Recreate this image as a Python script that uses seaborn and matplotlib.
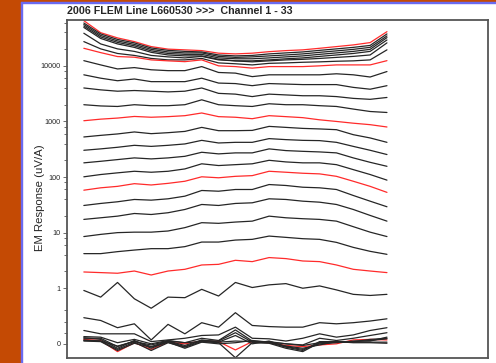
import numpy as np
import pandas as pd
import seaborn as sns
import matplotlib.pyplot as plt
from matplotlib.patches import Rectangle
from matplotlib.ticker import FixedLocator, FixedFormatter, NullFormatter

# station index along the line (19 readings per channel)
stations = list(range(19))

# EM response (uV/A) per channel
ch01 = [65000, 39500, 31800, 27300, 22200, 20000, 19400, 18800, 16900, 16400, 16900, 18000, 18800, 19400, 20700, 22200, 23800, 26200, 41200]
ch02 = [59000, 37500, 29900, 25900, 21000, 19000, 18200, 17800, 15700, 15100, 15400, 16400, 17100, 17800, 19000, 20200, 21500, 23300, 37500]
ch03 = [55500, 35200, 28100, 24300, 19800, 17800, 17100, 17100, 14800, 14200, 14500, 15100, 15700, 16400, 17500, 18600, 19800, 21500, 34500]
ch04 = [52100, 33100, 26400, 22900, 18600, 16700, 16100, 16100, 13900, 13400, 13400, 13900, 14500, 15100, 16100, 17100, 18200, 19800, 32200]
ch05 = [49100, 31100, 24800, 21500, 17500, 15700, 15100, 15100, 13100, 12300, 12300, 12800, 13400, 13900, 14800, 15700, 16700, 18200, 29200]
ch06 = [38600, 24800, 20200, 18200, 15400, 14500, 13900, 14800, 12800, 12300, 11800, 12300, 12800, 13100, 13600, 14200, 14800, 15700, 25900]
ch07 = [27300, 20200, 16700, 15400, 13600, 12800, 12800, 13600, 11300, 10900, 10400, 11100, 11300, 11600, 11800, 12100, 12300, 12800, 19400]
ch08 = [20700, 17300, 14700, 14300, 12800, 12300, 11900, 12800, 10000, 9700, 9100, 9700, 9700, 9700, 10000, 10400, 10400, 10400, 12400]
ch09 = [12400, 10400, 8800, 9300, 8500, 8200, 8200, 9700, 7600, 7400, 6400, 6900, 6900, 6900, 6900, 7200, 6900, 6300, 7900]
ch10 = [6900, 6000, 5400, 5800, 5200, 5200, 5200, 6000, 4900, 4800, 4400, 4800, 4700, 4600, 4600, 4600, 4100, 3800, 4400]
ch11 = [4000, 3700, 3500, 3600, 3500, 3400, 3500, 4000, 3200, 3100, 2800, 3100, 3000, 2900, 2900, 2800, 2600, 2500, 2700]
ch12 = [2000, 1900, 1860, 2000, 1920, 1920, 2000, 2450, 2000, 1920, 1860, 2080, 2000, 2000, 1920, 1860, 1670, 1510, 1450]
ch13 = [1030, 1100, 1150, 1230, 1190, 1220, 1270, 1420, 1220, 1190, 1120, 1270, 1220, 1170, 1070, 1000, 930, 875, 795]
ch14 = [526, 562, 596, 647, 603, 628, 662, 782, 682, 682, 690, 815, 782, 750, 733, 711, 578, 505, 421]
ch15 = [303, 321, 343, 372, 356, 372, 394, 457, 410, 421, 421, 491, 471, 457, 452, 421, 356, 303, 254]
ch16 = [180, 192, 206, 221, 212, 221, 236, 279, 261, 272, 272, 321, 299, 290, 283, 272, 221, 184, 156]
ch17 = [101, 111, 119, 127, 122, 127, 140, 173, 161, 167, 173, 200, 187, 180, 180, 167, 136, 111, 88]
ch18 = [58, 64, 68, 76, 72, 77, 84, 101, 97, 103, 106, 127, 122, 117, 114, 103, 84, 68, 53]
ch19 = [30.8, 33.5, 35.9, 39.5, 38.4, 40.6, 45.3, 57.3, 55.6, 59.7, 59.7, 73.3, 70.5, 65.6, 64.0, 59.7, 46.6, 36.8, 29.2]
ch20 = [17.3, 18.5, 19.8, 22.1, 21.2, 22.8, 26.1, 32.1, 30.8, 33.5, 34.4, 40.6, 39.5, 36.8, 35.3, 32.1, 26.1, 20.4, 16.1]
ch21 = [8.5, 9.3, 10.0, 10.2, 10.2, 10.7, 12.3, 15.1, 14.7, 15.5, 16.1, 19.8, 18.5, 17.8, 17.3, 16.1, 12.8, 10.2, 8.5]
ch22 = [4.19, 4.19, 4.55, 4.86, 5.15, 5.15, 5.60, 6.77, 6.77, 7.35, 7.57, 8.67, 8.22, 7.78, 7.57, 6.68, 5.43, 4.61, 4.07]
ch23 = [1.96, 1.91, 1.86, 2.04, 1.73, 2.04, 2.19, 2.62, 2.69, 3.18, 3.01, 3.56, 3.41, 3.09, 3.01, 2.62, 2.19, 2.04, 1.91]
ch24 = [0.96, 0.84, 1.27, 0.81, 0.64, 0.84, 0.83, 0.98, 0.86, 1.27, 1.03, 1.15, 1.21, 1.0, 1.10, 0.97, 0.89, 0.87, 0.89]
ch25 = [0.47, 0.42, 0.29, 0.36, 0.07, 0.35, 0.18, 0.38, 0.30, 0.56, 0.33, 0.31, 0.30, 0.30, 0.38, 0.36, 0.38, 0.41, 0.45]
ch26 = [0.24, 0.18, 0.18, 0.18, 0.04, 0.07, 0.10, 0.15, 0.16, 0.30, 0.10, 0.09, 0.05, 0.10, 0.18, 0.12, 0.16, 0.24, 0.29]
ch27 = [0.13, 0.12, 0.02, 0.08, 0.0, 0.06, 0.02, 0.10, 0.06, 0.25, 0.05, 0.03, 0.0, -0.02, 0.10, 0.06, 0.10, 0.15, 0.20]
ch28 = [0.08, 0.06, -0.14, 0.02, -0.10, 0.03, 0.0, 0.05, 0.04, -0.11, 0.04, 0.02, -0.03, -0.05, -0.02, 0.0, 0.07, 0.08, 0.07]
ch29 = [0.10, 0.10, -0.05, 0.05, -0.05, 0.05, -0.03, 0.07, 0.03, 0.15, 0.0, 0.05, -0.05, -0.10, 0.0, 0.02, 0.05, 0.05, 0.12]
ch30 = [0.06, 0.05, -0.10, 0.03, -0.12, 0.02, -0.06, 0.04, 0.02, -0.25, 0.02, 0.01, -0.08, -0.14, 0.02, 0.03, 0.03, 0.03, 0.03]
ch31 = [0.11, 0.08, -0.08, 0.06, -0.08, 0.04, -0.05, 0.06, 0.05, 0.20, 0.03, 0.02, -0.06, -0.12, 0.04, 0.04, 0.04, 0.06, 0.09]
ch32 = [0.05, 0.04, -0.12, 0.01, -0.06, 0.03, -0.08, 0.03, 0.0, 0.02, 0.06, 0.03, -0.04, -0.08, -0.02, 0.04, 0.02, 0.02, 0.01]
ch33 = [0.07, 0.05, -0.04, 0.04, -0.02, 0.05, 0.02, 0.04, 0.03, 0.05, 0.04, 0.04, 0.0, -0.03, 0.02, 0.03, 0.04, 0.08, 0.10]

channels = [ch01, ch02, ch03, ch04, ch05, ch06, ch07, ch08, ch09, ch10, ch11,
            ch12, ch13, ch14, ch15, ch16, ch17, ch18, ch19, ch20, ch21, ch22,
            ch23, ch24, ch25, ch26, ch27, ch28, ch29, ch30, ch31, ch32, ch33]
red_channels = [1, 8, 13, 18, 23, 28]

ytick_vals = [0, 1, 10, 100, 1000, 10000]
ytick_labels = ["0", "1", "10", "100", "1000", "10000"]

rows = []
for ch, vals in enumerate(channels, start=1):
    for s, v in zip(stations, vals):
        rows.append((ch, s, v))
df = pd.DataFrame(rows, columns=["channel", "station", "response"])
palette = {ch: ("#ff2b2b" if ch in red_channels else "#262626") for ch in range(1, 34)}

sns.set_style("ticks")
plt.rcParams["font.family"] = ["Liberation Sans", "DejaVu Sans"]

W, H = 496, 363
fig = plt.figure(figsize=(W / 100, H / 100), dpi=100)
fig.patch.set_facecolor("white")
# orange frame of the web page + thin blue border
fig.patches.append(Rectangle((0, 0), 20 / W, 1, transform=fig.transFigure, color="#c44a04", zorder=0))
fig.patches.append(Rectangle((0, 1 - 2 / H), 1, 2 / H, transform=fig.transFigure, color="#c44a04", zorder=0))
fig.patches.append(Rectangle((21 / W, 0), 1.3 / W, 1 - 2 / H, transform=fig.transFigure, color="#6a6af0", zorder=0))
fig.patches.append(Rectangle((21 / W, 1 - 3.3 / H), 1 - 21 / W, 1.3 / H, transform=fig.transFigure, color="#6a6af0", zorder=0))

ax = fig.add_axes([67 / W, 5 / H, 421 / W, 338 / H])
sns.lineplot(data=df, x="station", y="response", hue="channel", palette=palette,
             estimator=None, legend=False, linewidth=0.9, ax=ax)

ax.set_yscale("symlog", linthresh=1, linscale=0.9)
ax.set_ylim(-0.255, 66800)
ax.set_xlim(-1, 24)

ax.yaxis.set_major_locator(FixedLocator(ytick_vals))
ax.yaxis.set_major_formatter(FixedFormatter(ytick_labels))
minor = [0.2, 0.4, 0.6]
for dec in [1, 10, 100, 1000, 10000]:
    minor += [dec * m for m in (2, 4, 6, 8)]
ax.yaxis.set_minor_locator(FixedLocator(minor))
ax.yaxis.set_minor_formatter(NullFormatter())
ax.tick_params(axis="y", which="major", length=3, width=0.6, color="#555555", labelsize=5.2, pad=1.5)
ax.tick_params(axis="y", which="minor", length=2, width=0.6, color="#555555")
ax.set_xticks([])
ax.set_xlabel("")
ax.set_ylabel("EM Response (uV/A)", fontsize=8.2)
ax.yaxis.set_label_coords(-0.052, 0.475)

for side in ["left", "bottom", "top", "right"]:
    ax.spines[side].set_visible(True)
    ax.spines[side].set_color("#555555")
    ax.spines[side].set_linewidth(1.3)

ax.set_title("2006 FLEM Line L660530 >>>  Channel 1 - 33", loc="left",
             fontsize=7.7, fontweight="bold", pad=4)

fig.savefig("out.png", dpi=100)
